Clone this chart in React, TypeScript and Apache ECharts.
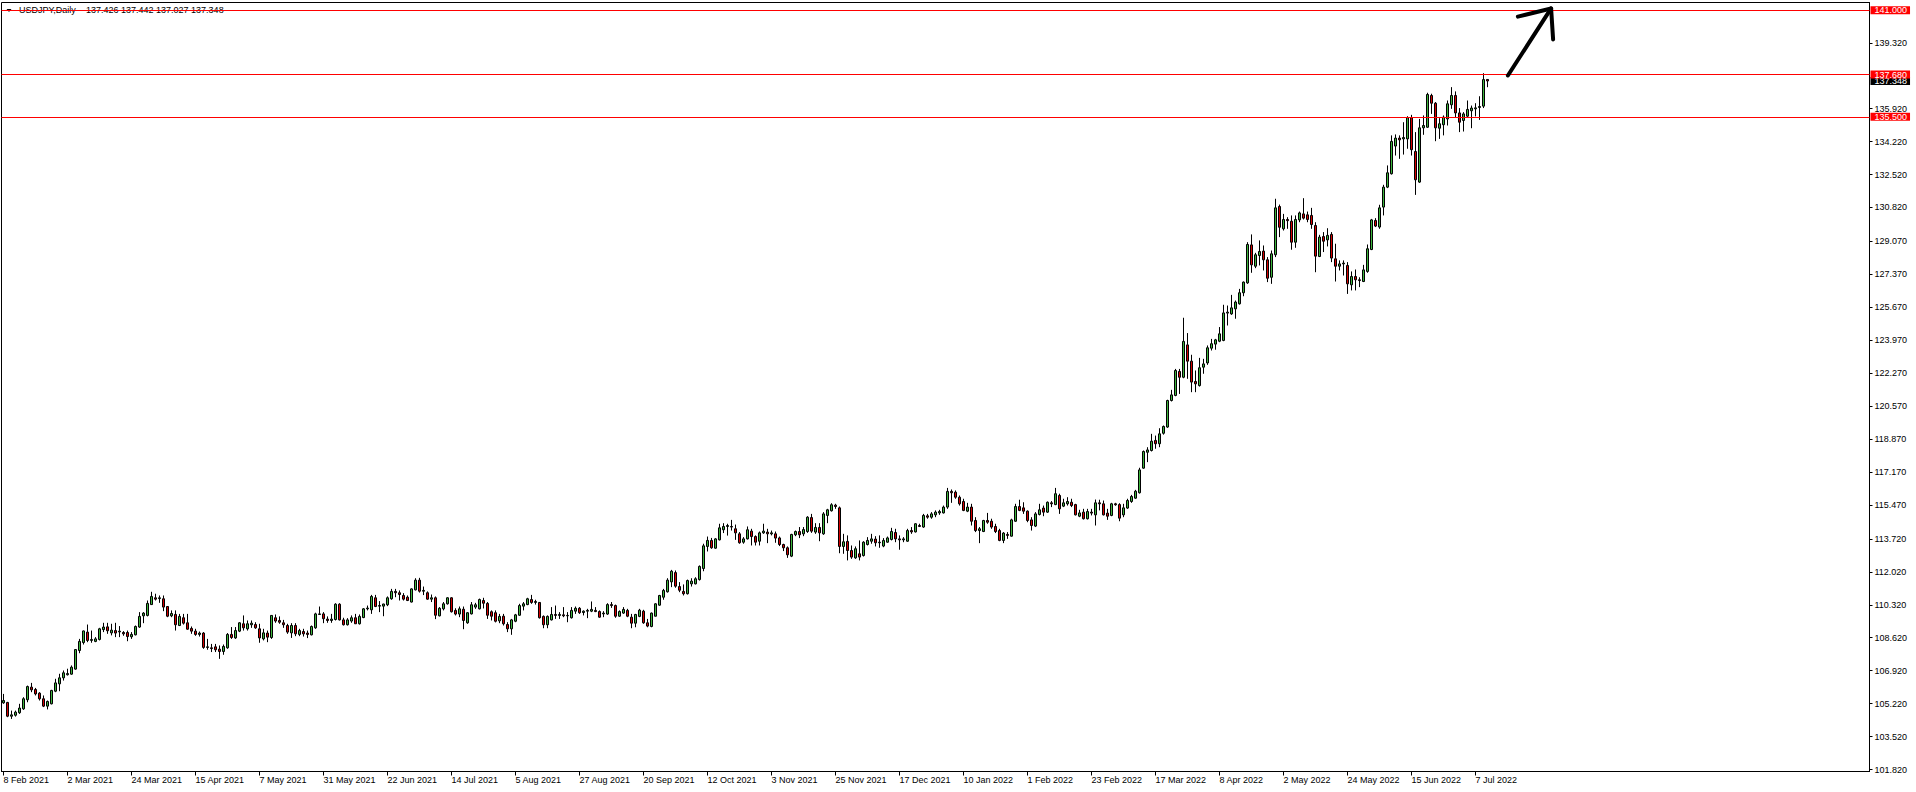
import React, { useEffect, useRef } from 'react';
import * as echarts from 'echarts';

const symbolTitle = 'USDJPY,Daily';
const lastQuote = [137.426, 137.442, 137.027, 137.348];

const dateTicks = [
  '8 Feb 2021', '2 Mar 2021', '24 Mar 2021', '15 Apr 2021', '7 May 2021', '31 May 2021',
  '22 Jun 2021', '14 Jul 2021', '5 Aug 2021', '27 Aug 2021', '20 Sep 2021', '12 Oct 2021',
  '3 Nov 2021', '25 Nov 2021', '17 Dec 2021', '10 Jan 2022', '1 Feb 2022', '23 Feb 2022',
  '17 Mar 2022', '8 Apr 2022', '2 May 2022', '24 May 2022', '15 Jun 2022', '7 Jul 2022',
];
const barsPerTick = 16;
const totalSlots = 467;

const priceTicks = [
  139.32, 135.92, 134.22, 132.52, 130.82, 129.07, 127.37, 125.67, 123.97, 122.27, 120.57,
  118.87, 117.17, 115.47, 113.72, 112.02, 110.32, 108.62, 106.92, 105.22, 103.52, 101.82,
];
const priceMin = 101.717;
const priceMax = 141.397;

const levels = [141.0, 137.68, 135.5];

// [open, high, low, close]
const candles: number[][] = [
  [105.26,105.72,105.21,105.38],[105.28,105.31,104.52,104.57],[104.57,104.86,104.43,104.64],[104.62,104.86,104.55,104.78],
  [104.75,105.21,104.69,104.99],[104.95,105.55,104.90,105.47],[105.42,106.15,105.29,106.10],[106.07,106.29,105.81,105.93],
  [105.95,106.03,105.64,105.72],[105.76,105.81,105.38,105.47],[105.47,105.64,105.04,105.09],[105.09,105.38,104.92,105.33],
  [105.21,105.93,105.18,105.90],[105.86,106.50,105.81,106.29],[106.24,106.76,105.86,106.55],[106.55,106.93,106.41,106.81],
  [106.71,107.02,106.67,106.77],[106.74,107.19,106.71,107.10],[107.00,108.03,106.97,108.01],[107.96,108.56,107.82,108.43],
  [108.37,108.99,108.27,108.97],[108.91,109.30,108.39,108.48],[108.48,108.99,108.36,108.53],[108.43,108.65,108.39,108.56],
  [108.53,109.13,108.48,109.08],[109.04,109.39,108.91,109.17],[109.18,109.39,108.82,108.98],[108.87,109.34,108.74,109.01],
  [108.99,109.39,108.65,108.86],[108.92,109.22,108.65,108.96],[108.89,108.96,108.72,108.82],[108.89,108.99,108.44,108.68],
  [108.67,108.91,108.56,108.79],[108.77,109.25,108.74,109.20],[109.17,109.94,109.13,109.72],[109.75,109.94,109.37,109.89],
  [109.77,110.54,109.72,110.39],[110.33,110.99,110.31,110.75],[110.68,110.89,110.54,110.61],[110.64,110.80,110.42,110.68],
  [110.63,110.80,109.99,110.20],[110.23,110.25,109.68,109.73],[109.75,110.03,109.68,109.87],[109.82,110.03,108.99,109.29],
  [109.25,109.85,109.22,109.72],[109.65,109.85,109.30,109.37],[109.39,109.85,109.03,109.06],[109.10,109.20,108.82,108.96],
  [108.96,109.08,108.72,108.79],[108.79,108.94,108.68,108.86],[108.86,108.91,108.05,108.12],[108.12,108.56,108.00,108.15],
  [108.10,108.30,107.88,108.06],[108.15,108.30,107.88,108.00],[108.03,108.22,107.53,107.91],[107.91,108.27,107.74,108.17],
  [108.10,108.86,108.05,108.79],[108.79,109.17,108.56,108.63],[108.61,109.17,108.56,108.99],[108.96,109.42,108.91,109.39],
  [109.34,109.77,108.99,109.13],[109.08,109.51,108.99,109.34],[109.29,109.51,109.13,109.37],[109.30,109.42,109.08,109.13],
  [109.08,109.34,108.36,108.61],[108.56,109.08,108.48,108.87],[108.86,108.99,108.39,108.65],[108.63,109.78,108.56,109.77],
  [109.65,109.82,109.39,109.48],[109.51,109.72,109.34,109.42],[109.39,109.54,109.13,109.29],[109.25,109.34,108.82,108.91],
  [108.87,109.37,108.61,109.25],[109.25,109.37,108.70,108.82],[108.79,109.08,108.70,108.99],[108.94,109.08,108.68,108.82],
  [108.86,108.99,108.60,108.79],[108.77,109.25,108.74,109.20],[109.13,109.91,109.08,109.85],[109.82,110.23,109.80,109.85],
  [109.85,109.94,109.37,109.60],[109.58,109.72,109.39,109.51],[109.51,109.85,109.39,109.58],[109.56,110.40,109.51,110.35],
  [110.35,110.40,109.51,109.54],[109.54,109.65,109.25,109.29],[109.29,109.63,109.25,109.54],[109.48,109.77,109.39,109.65],
  [109.65,109.85,109.33,109.34],[109.34,109.82,109.30,109.72],[109.66,110.15,109.63,110.11],[110.11,110.28,110.03,110.15],
  [110.06,110.83,109.85,110.75],[110.68,110.83,110.20,110.23],[110.25,110.51,109.94,110.28],[110.25,110.37,109.73,110.36],
  [110.32,110.75,110.25,110.68],[110.63,111.14,110.58,111.01],[111.01,111.14,110.71,110.94],[110.94,111.06,110.54,110.85],
  [110.80,110.92,110.54,110.61],[110.71,110.80,110.51,110.54],[110.46,111.17,110.44,111.14],[111.09,111.69,111.06,111.59],
  [111.59,111.71,110.95,111.02],[111.02,111.26,110.82,111.06],[110.94,111.01,110.58,110.61],[110.61,110.85,110.46,110.68],
  [110.68,110.75,109.58,109.78],[109.75,110.20,109.72,110.14],[110.11,110.46,110.03,110.37],[110.37,110.71,110.33,110.68],
  [110.68,110.71,109.92,109.96],[110.03,110.14,109.77,109.84],[109.84,110.23,109.68,110.11],[110.09,110.23,109.06,109.51],
  [109.39,109.94,109.34,109.91],[109.85,110.46,109.82,110.32],[110.20,110.42,110.11,110.32],[110.11,110.64,110.08,110.59],
  [110.54,110.68,110.13,110.40],[110.39,110.46,109.59,109.78],[109.96,110.03,109.51,109.73],[109.91,110.03,109.41,109.47],
  [109.49,109.85,109.37,109.72],[109.73,109.85,109.25,109.34],[109.30,109.42,108.91,109.08],[109.08,109.59,108.77,109.54],
  [109.47,109.85,109.42,109.80],[109.78,110.37,109.75,110.28],[110.25,110.46,110.03,110.37],[110.33,110.68,110.30,110.63],
  [110.59,110.83,110.37,110.44],[110.44,110.58,110.33,110.49],[110.44,110.46,109.61,109.65],[109.72,109.77,109.11,109.29],
  [109.29,109.77,109.11,109.72],[109.54,110.20,109.51,109.82],[109.82,110.28,109.59,109.77],[109.77,109.94,109.59,109.82],
  [109.80,110.20,109.68,109.75],[109.75,109.94,109.42,109.77],[109.65,110.20,109.61,110.03],[109.99,110.23,109.85,110.14],
  [110.14,110.20,109.85,109.91],[109.92,110.03,109.77,109.99],[109.99,110.11,109.63,110.03],[109.99,110.49,109.94,110.08],
  [110.03,110.20,109.94,109.97],[109.97,110.03,109.65,109.68],[109.85,109.99,109.68,109.89],[109.84,110.40,109.80,110.33],
  [110.33,110.46,110.16,110.28],[110.28,110.33,109.65,109.73],[109.73,110.03,109.70,109.97],[109.89,110.20,109.85,110.08],
  [110.03,110.11,109.68,109.73],[109.68,109.85,109.11,109.37],[109.37,109.85,109.16,109.82],[109.72,110.11,109.68,110.04],
  [109.99,110.06,109.34,109.39],[109.39,109.59,109.16,109.22],[109.20,109.92,109.16,109.89],[109.73,110.40,109.72,110.37],
  [110.30,110.83,110.27,110.80],[110.71,111.14,110.58,111.06],[110.99,111.69,110.95,111.59],[111.50,112.12,111.23,112.05],
  [111.98,112.09,111.20,111.28],[111.26,111.49,110.97,111.07],[111.01,111.37,110.80,110.89],[110.89,111.62,110.85,111.57],
  [111.40,111.69,111.26,111.54],[111.40,111.74,111.37,111.66],[111.62,112.35,111.57,112.30],[112.19,113.47,112.05,113.36],
  [113.33,113.84,113.07,113.64],[113.64,113.77,113.21,113.26],[113.24,113.76,113.21,113.72],[113.67,114.50,113.64,114.29],
  [114.19,114.53,114.02,114.36],[114.36,114.50,113.89,114.41],[114.36,114.70,114.15,114.33],[114.24,114.46,113.67,114.03],
  [113.98,114.07,113.47,113.52],[113.55,113.81,113.47,113.72],[113.72,114.36,113.69,114.19],[114.12,114.24,113.38,113.84],
  [113.84,113.90,113.38,113.55],[113.60,114.10,113.38,114.03],[114.03,114.50,113.98,114.12],[114.07,114.24,113.50,113.98],
  [113.98,114.15,113.90,114.03],[113.98,114.10,113.52,113.76],[113.77,113.84,113.35,113.43],[113.43,113.47,113.09,113.26],
  [113.26,113.33,112.74,112.90],[112.83,113.98,112.78,113.95],[113.93,114.15,113.86,114.10],[114.10,114.33,113.76,113.93],
  [113.98,114.33,113.86,114.20],[114.10,114.89,114.03,114.84],[114.82,115.01,114.03,114.12],[114.07,114.53,113.98,114.31],
  [114.31,114.53,113.60,114.03],[113.98,115.10,113.93,115.01],[114.93,115.27,114.53,115.22],[115.17,115.56,115.13,115.48],
  [115.46,115.53,115.27,115.39],[115.32,115.39,112.98,113.33],[113.33,113.98,112.95,113.57],[113.59,113.90,112.61,113.12],
  [113.12,113.38,112.69,112.78],[112.74,113.33,112.69,113.21],[112.95,113.64,112.61,112.78],[112.86,113.60,112.81,113.55],
  [113.43,113.81,113.38,113.64],[113.60,113.98,113.47,113.72],[113.71,113.86,113.33,113.52],[113.52,113.90,113.26,113.55],
  [113.35,113.76,113.29,113.64],[113.55,113.84,113.52,113.77],[113.69,114.29,113.64,114.10],[114.05,114.24,113.55,113.72],
  [113.72,113.90,113.16,113.67],[113.67,113.81,113.55,113.72],[113.60,114.24,113.57,114.15],[114.15,114.33,113.98,114.08],
  [114.08,114.53,114.05,114.50],[114.41,114.50,114.33,114.36],[114.33,115.01,114.29,114.93],[114.91,115.01,114.76,114.84],
  [114.84,115.10,114.76,115.01],[114.96,115.19,114.84,115.10],[115.06,115.22,114.96,115.13],[115.06,115.44,115.03,115.36],
  [115.36,116.35,115.27,116.17],[116.17,116.27,115.58,116.10],[116.13,116.22,115.79,115.87],[115.87,115.96,115.44,115.53],
  [115.65,115.79,115.15,115.19],[115.15,115.58,115.10,115.36],[115.36,115.53,114.41,114.63],[114.67,114.84,114.07,114.15],
  [114.15,114.33,113.50,114.24],[114.10,114.70,114.07,114.67],[114.67,115.06,114.50,114.58],[114.63,114.76,114.24,114.33],
  [114.36,114.50,114.02,114.10],[114.15,114.24,113.60,113.64],[113.64,114.07,113.50,114.02],[113.95,114.07,113.72,113.90],
  [113.86,114.76,113.84,114.70],[114.63,115.53,114.60,115.39],[115.39,115.74,115.15,115.19],[115.32,115.61,115.01,115.15],
  [115.15,115.19,114.58,114.67],[114.70,114.84,114.15,114.41],[114.38,115.10,114.33,115.01],[114.98,115.53,114.93,115.22],
  [115.31,115.44,114.89,115.10],[115.10,115.65,115.06,115.61],[115.58,115.67,115.36,115.53],[115.49,116.35,115.46,116.05],
  [115.96,116.05,115.01,115.27],[115.41,115.79,115.36,115.58],[115.53,115.87,115.44,115.65],[115.61,115.79,115.36,115.44],
  [115.49,115.53,114.93,114.96],[114.89,115.22,114.84,115.06],[115.10,115.27,114.72,114.76],[114.76,115.27,114.72,115.13],
  [115.10,115.27,114.93,115.05],[114.96,115.75,114.41,115.58],[115.58,115.74,115.19,115.53],[115.53,115.70,114.93,114.96],
  [115.05,115.27,114.70,114.89],[114.93,115.58,114.89,115.53],[115.53,115.58,115.43,115.48],[115.49,115.56,114.63,114.79],
  [114.96,115.53,114.84,115.32],[115.31,115.79,115.27,115.70],[115.65,115.99,115.58,115.91],[115.82,116.25,115.79,116.18],
  [116.10,117.39,116.06,117.28],[117.37,118.28,117.34,118.23],[118.19,118.45,117.68,118.31],[118.28,119.14,118.23,118.76],
  [118.80,119.05,118.37,118.63],[118.63,119.43,118.45,119.14],[119.17,119.57,119.10,119.52],[119.49,120.90,119.45,120.86],
  [120.86,121.41,120.81,121.15],[121.12,122.49,121.08,122.41],[122.36,122.49,121.20,122.06],[122.06,125.13,122.01,123.91],
  [123.73,124.34,121.98,122.89],[122.89,123.22,121.29,121.81],[121.84,122.41,121.29,121.72],[121.63,123.06,121.58,122.55],
  [122.58,123.01,122.24,122.75],[122.80,123.70,122.70,123.58],[123.56,124.04,123.44,123.79],[123.77,124.04,123.48,123.99],
  [123.92,124.65,123.87,124.30],[123.96,125.80,123.92,125.38],[125.37,125.76,124.73,125.42],[125.33,126.31,125.28,125.64],
  [125.59,126.02,125.08,125.94],[125.85,126.62,125.81,126.42],[126.42,127.00,126.24,126.97],[126.93,129.03,126.88,128.91],
  [128.89,129.43,127.45,127.86],[127.79,128.48,127.69,128.38],[128.34,129.12,127.83,128.55],[128.57,128.86,127.57,128.12],
  [128.12,128.26,126.97,127.17],[127.22,128.60,126.88,128.43],[128.38,131.27,128.26,130.80],[130.87,130.97,129.29,129.80],
  [129.72,130.49,129.63,130.20],[130.20,130.32,129.72,130.14],[130.11,130.41,128.64,129.03],[129.03,130.41,128.74,130.20],
  [130.18,130.61,130.06,130.54],[130.49,131.30,130.20,130.27],[130.44,130.61,130.06,130.20],[130.41,130.80,129.72,129.94],
  [129.89,130.06,127.48,128.31],[128.29,129.41,128.26,129.29],[129.32,129.55,128.52,129.08],[129.15,129.75,128.81,129.38],
  [129.43,129.55,128.00,128.21],[128.17,128.95,127.00,127.79],[127.79,128.09,127.57,127.91],[127.91,128.09,127.31,127.95],
  [127.83,128.00,126.36,126.88],[126.83,127.52,126.54,127.26],[127.26,127.62,126.54,127.09],[127.09,127.22,126.71,127.05],
  [127.00,127.86,126.97,127.60],[127.52,128.91,127.45,128.69],[128.65,130.23,128.62,130.18],[130.15,130.27,129.81,129.86],
  [129.81,130.96,129.72,130.80],[130.84,131.99,130.41,131.87],[131.87,132.99,131.82,132.61],[132.56,134.54,132.52,134.23],
  [133.99,134.59,133.50,134.40],[134.40,134.54,133.33,134.31],[134.36,135.22,133.55,134.43],[134.36,135.53,133.85,135.45],
  [135.45,135.60,133.50,133.80],[133.71,134.71,131.47,132.25],[132.13,135.39,132.09,134.93],[134.93,135.57,134.57,135.05],
  [134.96,136.74,134.93,136.65],[136.60,136.69,135.65,136.20],[136.20,136.26,134.24,134.93],[134.91,135.43,134.36,135.14],
  [135.09,135.57,134.54,135.48],[135.39,136.34,135.05,136.17],[136.12,137.03,135.91,136.60],[136.60,136.81,135.48,135.70],
  [135.70,135.95,134.71,135.22],[135.31,135.74,134.74,135.65],[135.53,136.34,135.45,135.88],[135.81,136.08,134.91,135.95],
  [135.91,136.20,135.52,135.96],[135.98,136.56,135.34,136.03],[136.05,137.75,135.95,137.42],[137.426,137.442,137.027,137.348],
];

// hand-drawn arrow, in [bar slot, price]
const arrowShaft = [[376.1, 137.63], [386.9, 141.09]];
const arrowHead = [[378.6, 140.67], [386.9, 141.09], [387.4, 139.49]];

const bullColor = '#3cb43c';
const bearColor = '#d40000';
const levelColor = '#ff0000';
const fontFamily = "'Liberation Sans', Arial, sans-serif";
const fontSize = 9;

export default function App() {
  const ref = useRef<HTMLDivElement>(null);

  useEffect(() => {
    if (!ref.current) return;
    const chart = echarts.init(ref.current, null, { renderer: 'svg' });
    const slots = Array.from({ length: totalSlots }, (_, i) => String(i));
    const seriesData = candles.map(([o, h, l, c]) => [o, c, l, h]);
    const showTick = (i: number) => i % barsPerTick === 0 && i / barsPerTick < dateTicks.length;

    const labelBox = (bg: string) => ({
      show: true,
      position: 'end',
      distance: 1,
      color: '#fff',
      backgroundColor: bg,
      padding: [0, 3, 0, 4],
      fontFamily,
      fontSize,
      lineHeight: 8,
    });

    chart.setOption({
      animation: false,
      backgroundColor: '#ffffff',
      grid: {
        left: 1.5,
        top: 2.5,
        right: 46.5,
        bottom: 20.5,
        show: true,
        borderColor: '#000',
        borderWidth: 1,
        backgroundColor: 'transparent',
      },
      xAxis: {
        type: 'category',
        data: slots,
        boundaryGap: true,
        axisLine: { show: true, lineStyle: { color: '#000', width: 1 } },
        axisTick: {
          show: true,
          alignWithLabel: true,
          length: 4,
          interval: (i: number) => showTick(i),
          lineStyle: { color: '#000' },
        },
        axisLabel: {
          show: true,
          interval: (i: number) => showTick(i),
          formatter: (_v: string, i: number) => (showTick(i) ? dateTicks[i / barsPerTick] : ''),
          align: 'left',
          margin: 4,
          color: '#000',
          fontFamily,
          fontSize,
        },
        splitLine: { show: false },
      },
      yAxis: {
        type: 'value',
        position: 'right',
        min: priceMin,
        max: priceMax,
        axisLine: { show: true, lineStyle: { color: '#000', width: 1 } },
        axisTick: { show: true, customValues: priceTicks, length: 3, lineStyle: { color: '#000' } },
        axisLabel: {
          show: true,
          customValues: priceTicks,
          formatter: (v: number) => v.toFixed(3),
          margin: 5,
          color: '#000',
          fontFamily,
          fontSize,
        },
        splitLine: { show: false },
      },
      series: [
        {
          type: 'candlestick',
          data: seriesData,
          barWidth: 2,
          clip: true,
          silent: true,
          itemStyle: {
            color: bullColor,
            color0: bearColor,
            borderColor: '#000',
            borderColor0: '#000',
            borderColorDoji: '#000',
            borderWidth: 1,
          },
          markLine: {
            silent: true,
            symbol: ['none', 'none'],
            animation: false,
            data: [
              {
                yAxis: lastQuote[3],
                lineStyle: { color: 'rgba(0,0,0,0)', width: 0 },
                label: { ...labelBox('#000'), formatter: lastQuote[3].toFixed(3) },
              },
              ...levels.map((v) => ({
                yAxis: v,
                lineStyle: { color: levelColor, width: 1, type: 'solid' },
                label: { ...labelBox(levelColor), formatter: v.toFixed(3) },
              })),
            ],
          },
        },
      ],
    });

    const toPx = (pt: number[]) => {
      const i0 = Math.floor(pt[0]);
      const a = chart.convertToPixel({ xAxisIndex: 0 }, i0) as number;
      const b = chart.convertToPixel({ xAxisIndex: 0 }, i0 + 1) as number;
      const y = chart.convertToPixel({ yAxisIndex: 0 }, pt[1]) as number;
      return [a + (b - a) * (pt[0] - i0), y];
    };

    chart.setOption({
      graphic: [
        {
          type: 'polygon',
          shape: { points: [[6.5, 9], [11.5, 9], [9, 12]] },
          style: { fill: '#000' },
        },
        {
          type: 'text',
          x: 19,
          y: 10,
          style: {
            text: symbolTitle,
            fill: '#000',
            font: `${fontSize}px ${fontFamily}`,
            textVerticalAlign: 'middle',
            verticalAlign: 'middle',
          },
        },
        {
          type: 'text',
          x: 86,
          y: 10,
          style: {
            text: lastQuote.map((v) => v.toFixed(3)).join(' '),
            fill: '#000',
            font: `${fontSize}px ${fontFamily}`,
            textVerticalAlign: 'middle',
            verticalAlign: 'middle',
          },
        },
        {
          type: 'polyline',
          shape: { points: arrowShaft.map(toPx) },
          style: { stroke: '#000', lineWidth: 4, lineCap: 'round', lineJoin: 'round', fill: null },
          z: 100,
        },
        {
          type: 'polyline',
          shape: { points: arrowHead.map(toPx) },
          style: { stroke: '#000', lineWidth: 4, lineCap: 'round', lineJoin: 'round', fill: null },
          z: 100,
        },
      ],
    });

    return () => chart.dispose();
  }, []);

  return (
    <div
      ref={ref}
      style={{ position: 'fixed', left: 0, top: 0, width: 1916, height: 792, background: '#fff' }}
    />
  );
}
